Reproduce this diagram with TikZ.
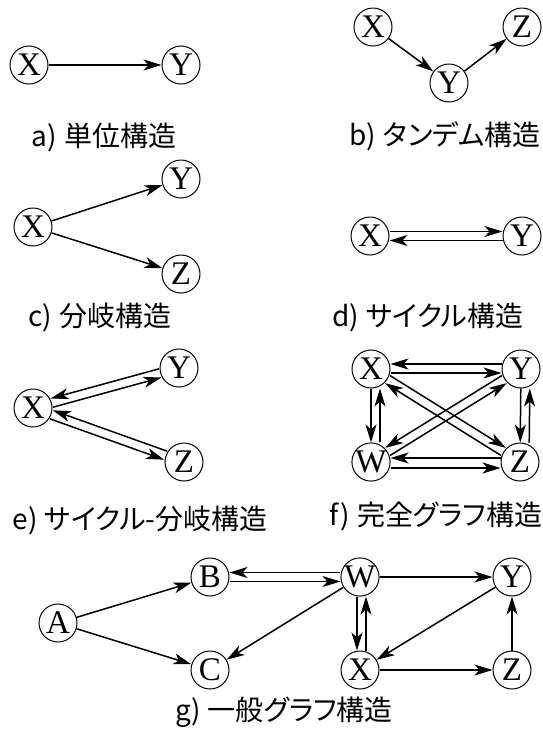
\documentclass[tikz,border=0pt]{standalone}
\usepackage{fontspec}
\newfontfamily\jpfont[RawFeature=+palt]{Noto Sans CJK JP}
\newfontfamily\nfont{Liberation Serif}
\usetikzlibrary{arrows.meta}
\tikzset{
 vtx/.style={circle, draw, line width=1pt, minimum size=38pt, inner sep=0pt, font=\nfont\fontsize{33}{33}\selectfont},
 arr/.style={-{Stealth[length=18pt,width=11pt,inset=5pt]}, line width=1.5pt},
 captxt/.style={font=\jpfont\fontsize{28}{28}\selectfont, inner sep=0pt},
 pshift/.style={transform canvas={shift={#1}}}
}
\newcommand{\capgap}{\hspace{0.25em}}
\begin{document}
\begin{tikzpicture}[x=1pt,y=-1pt]
\useasboundingbox (0,0) rectangle (543,729);
% a
\node[vtx] (aX) at (29,65) {X};
\node[vtx] (aY) at (181,65) {Y};
\draw[arr] (aX) -- (aY);
\node[captxt] (ca) at (104,137) {a)\capgap 単位構造};
% b
\node[vtx] (bX) at (373,27) {X};
\node[vtx] (bY) at (449,83) {Y};
\node[vtx] (bZ) at (522,27) {Z};
\draw[arr] (bX) -- (bY);
\draw[arr] (bY) -- (bZ);
\node[captxt] (cb) at (445,136) {b)\capgap タンデム構造};
% c
\node[vtx] (cX) at (33,227) {X};
\node[vtx] (cY) at (181,179) {Y};
\node[vtx] (cZ) at (181,274) {Z};
\draw[arr] (cX) -- (cY);
\draw[arr] (cX) -- (cZ);
\node[captxt] (cc) at (100,317) {c)\capgap 分岐構造};
% d
\node[vtx] (dX) at (370,236) {X};
\node[vtx] (dY) at (522,236) {Y};
\draw[arr,pshift={(0,-4.5)}] (dX) -- (dY);
\draw[arr,pshift={(0,4.5)}] (dY) -- (dX);
\node[captxt] (cd) at (428,317) {d)\capgap サイクル構造};
% e
\node[vtx] (eX) at (33,408) {X};
\node[vtx] (eY) at (179,368) {Y};
\node[vtx] (eZ) at (184,462) {Z};
\draw[arr,pshift={(-1.19,-4.34)}] (eY) -- (eX);
\draw[arr,pshift={(1.19,4.34)}] (eX) -- (eY);
\draw[arr,pshift={(1.5,-4.24)}] (eZ) -- (eX);
\draw[arr,pshift={(-1.5,4.24)}] (eX) -- (eZ);
\node[captxt] (ce) at (140,520) {e)\capgap サイクル-分岐構造};
% f
\node[vtx] (fX) at (371,369) {X};
\node[vtx] (fY) at (521,369) {Y};
\node[vtx] (fW) at (371,462) {W};
\node[vtx] (fZ) at (520,462) {Z};
\draw[arr,pshift={(0,-5)}] (fY) -- (fX);
\draw[arr,pshift={(0,4)}] (fX) -- (fY);
\draw[arr,pshift={(0,0)}] (fX) -- (fW);
\draw[arr,pshift={(9,0)}] (fW) -- (fX);
\draw[arr,pshift={(0,0)}] (fY) -- (fZ);
\draw[arr,pshift={(9,0)}] (fZ) -- (fY);
\draw[arr,pshift={(0,-4)}] (fZ) -- (fW);
\draw[arr,pshift={(0,6)}] (fW) -- (fZ);
\draw[arr,pshift={(2.38,-3.82)}] (fX) -- (fZ);
\draw[arr,pshift={(-2.38,3.82)}] (fZ) -- (fX);
\draw[arr,pshift={(-2.37,-3.82)}] (fY) -- (fW);
\draw[arr,pshift={(2.37,3.82)}] (fW) -- (fY);
\node[captxt] (cf) at (436,516) {f)\capgap 完全グラフ構造};
% g
\node[vtx] (gA) at (58,623) {A};
\node[vtx] (gB) at (210,577) {B};
\node[vtx] (gC) at (210,670) {C};
\node[vtx] (gW) at (360,577) {W};
\node[vtx] (gY) at (512,577) {Y};
\node[vtx] (gX) at (360,670) {X};
\node[vtx] (gZ) at (512,670) {Z};
\draw[arr] (gA) -- (gB);
\draw[arr] (gA) -- (gC);
\draw[arr,pshift={(0,-4.5)}] (gW) -- (gB);
\draw[arr,pshift={(0,4.5)}] (gB) -- (gW);
\draw[arr] (gW) -- (gC);
\draw[arr] (gW) -- (gY);
\draw[arr,pshift={(-3,0)}] (gW) -- (gX);
\draw[arr,pshift={(6,0)}] (gX) -- (gW);
\draw[arr] (gY) -- (gX);
\draw[arr] (gX) -- (gZ);
\draw[arr] (gZ) -- (gY);
\node[captxt] (cg) at (284,712) {g)\capgap 一般グラフ構造};
\end{tikzpicture}
\end{document}
